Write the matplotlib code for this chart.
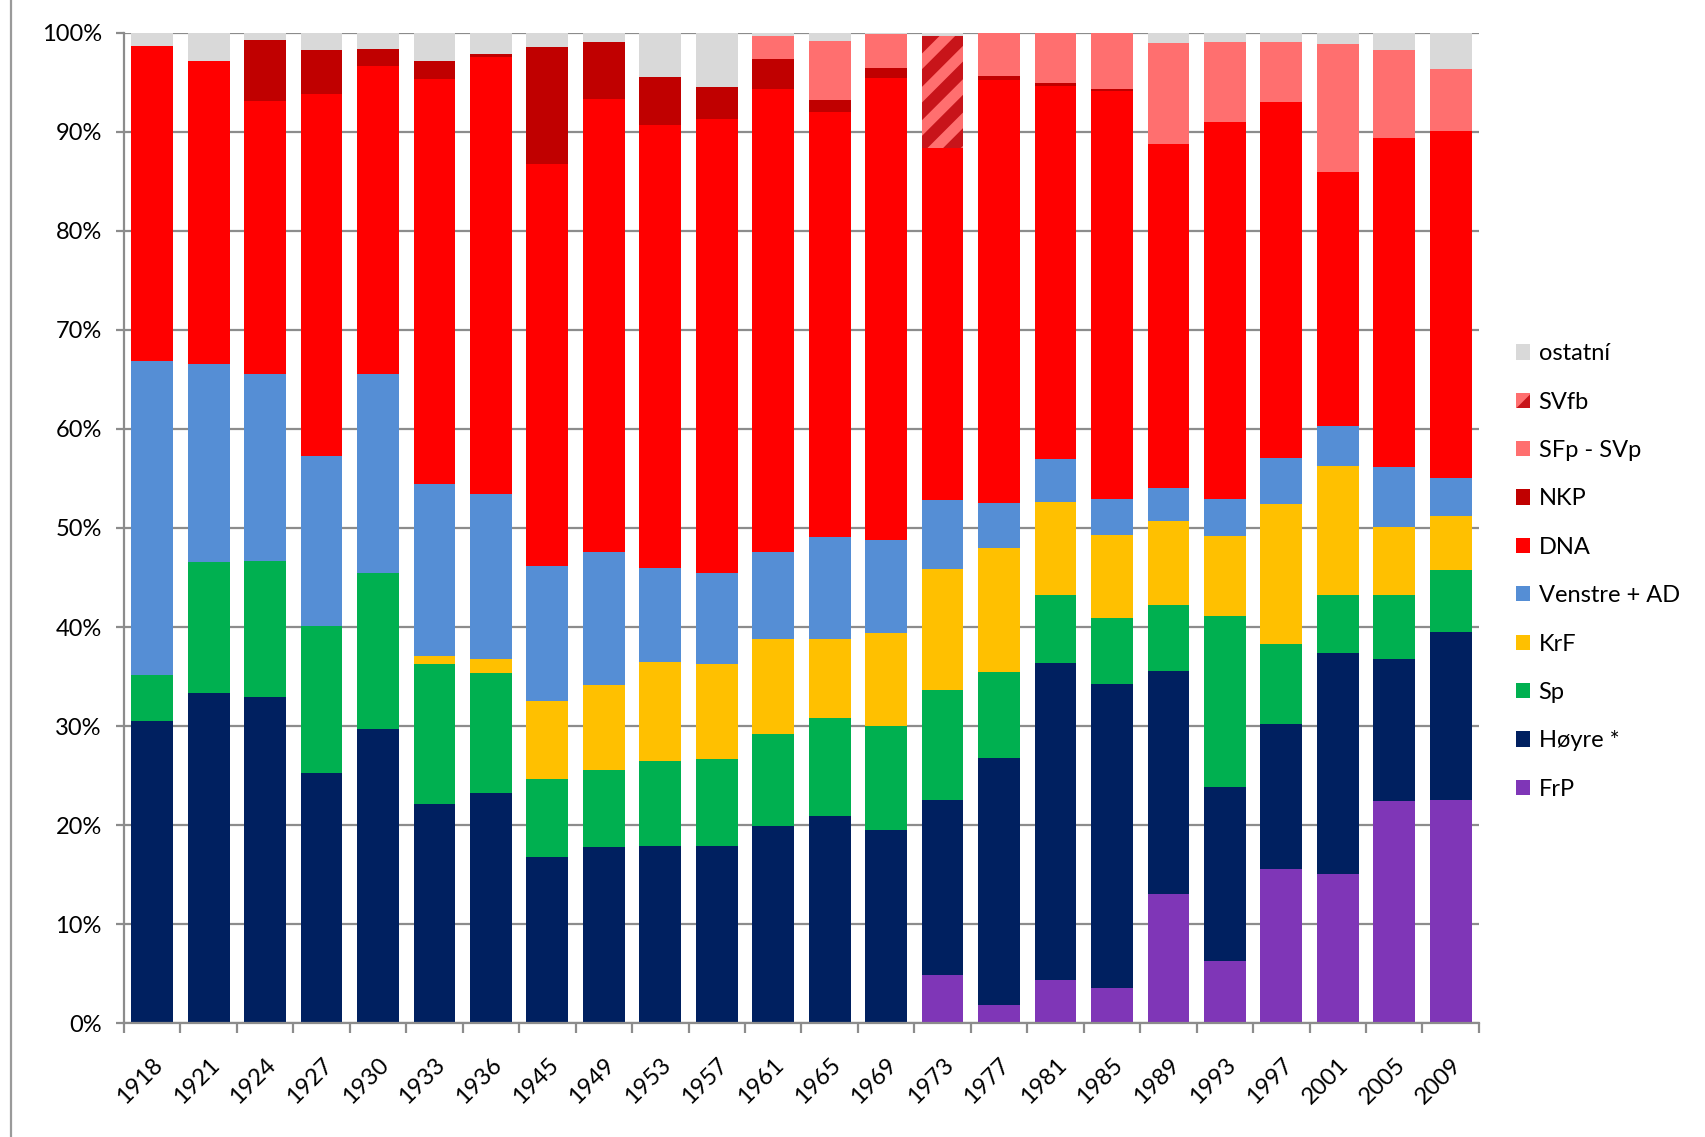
import matplotlib
matplotlib.use("Agg")
import matplotlib.pyplot as plt
import numpy as np
from matplotlib.patches import Patch
from matplotlib.lines import Line2D
from matplotlib.ticker import FuncFormatter, FixedLocator

plt.rcParams['font.family'] = ['Lato', 'DejaVu Sans']
plt.rcParams['hatch.linewidth'] = 9

years = ['1918', '1921', '1924', '1927', '1930', '1933', '1936', '1945', '1949', '1953',
         '1957', '1961', '1965', '1969', '1973', '1977', '1981', '1985', '1989', '1993',
         '1997', '2001', '2005', '2009']

frp = [0, 0, 0, 0, 0, 0, 0, 0, 0, 0, 0, 0, 0, 0, 4.9, 1.8, 4.4, 3.6, 13.1, 6.3, 15.6, 15.1, 22.4, 22.6]
hoyre = [30.5, 33.4, 32.9, 25.3, 29.7, 22.1, 23.3, 16.8, 17.8, 17.9, 17.9, 19.9, 20.9, 19.5,
         17.6, 25.0, 32.0, 30.7, 22.5, 17.6, 14.6, 22.3, 14.3, 17.0]
sp = [4.7, 13.2, 13.8, 14.8, 15.8, 14.1, 12.1, 7.9, 7.8, 8.6, 8.8, 9.3, 9.9, 10.5,
      11.1, 8.7, 6.8, 6.6, 6.6, 17.2, 8.1, 5.8, 6.5, 6.2]
krf = [0, 0, 0, 0, 0, 0.8, 1.4, 7.8, 8.5, 10.0, 9.6, 9.6, 8.0, 9.4,
       12.3, 12.5, 9.4, 8.4, 8.5, 8.1, 14.1, 13.1, 6.8, 5.5]
venstre = [31.7, 20.0, 18.8, 17.2, 20.0, 17.4, 16.7, 13.7, 13.5, 9.5, 9.2, 8.8, 10.3, 9.4,
           6.9, 4.5, 4.4, 3.6, 3.3, 3.7, 4.7, 4.0, 6.1, 3.9]
dna = [31.8, 30.6, 27.6, 36.5, 31.1, 40.8, 44.1, 40.5, 45.7, 44.7, 45.8, 46.7, 43.0, 46.6,
       35.6, 42.7, 37.6, 41.2, 34.8, 38.1, 35.9, 25.6, 33.2, 35.1]
nkp = [0, 0, 6.2, 4.4, 1.7, 1.8, 0.3, 11.8, 5.8, 4.8, 3.2, 3.0, 1.2, 1.0,
       0, 0.4, 0.3, 0.2, 0, 0, 0, 0, 0, 0]
sfp_svp = [0, 0, 0, 0, 0, 0, 0, 0, 0, 0, 0, 2.4, 6.0, 3.5,
           0, 4.4, 5.1, 5.7, 10.2, 8.1, 6.1, 13.0, 8.8, 6.2]
svfb = [0, 0, 0, 0, 0, 0, 0, 0, 0, 0, 0, 0, 0, 0,
        11.3, 0, 0, 0, 0, 0, 0, 0, 0, 0]
ostatni = [1.3, 2.9, 0.7, 1.8, 1.7, 2.9, 2.2, 1.5, 0.9, 4.5, 5.5, 0.3, 0.8, 0.1,
           0.3, 0, 0, 0, 1.0, 0.9, 0.9, 1.1, 1.8, 3.7]

series = [
    ('FrP', frp, '#7F36B7', None),
    ('Høyre *', hoyre, '#002060', None),
    ('Sp', sp, '#00B050', None),
    ('KrF', krf, '#FFC000', None),
    ('Venstre + AD', venstre, '#558ED5', None),
    ('DNA', dna, '#FF0000', None),
    ('NKP', nkp, '#C00000', None),
    ('SFp - SVp', sfp_svp, '#FF6F6F', None),
    ('SVfb', svfb, '#FF6F6F', '/'),
    ('ostatní', ostatni, '#D9D9D9', None),
]

data = np.array([s[1] for s in series], dtype=float)
totals = data.sum(axis=0)
shares = data / totals * 100.0

fig = plt.figure(figsize=(17.05, 11.37), dpi=100)
ax = fig.add_axes([0.0727, 0.1000, 0.7947, 0.8713])

x = np.arange(len(years))
bottom = np.zeros(len(years))
handles = []
for (name, _, color, hatch), vals in zip(series, shares):
    edge = '#C8141A' if hatch else 'none'
    ax.bar(x, vals, bottom=bottom, width=0.74, color=color, edgecolor=edge,
           hatch=hatch, linewidth=0, zorder=2)
    bottom += vals
    handles.append(Patch(facecolor=color, edgecolor=edge, hatch=hatch, linewidth=0,
                         label=name))

ax.set_xlim(-0.5, len(years) - 0.5)
ax.set_ylim(0, 100)
ax.set_yticks(np.arange(0, 101, 10))
ax.yaxis.set_major_formatter(FuncFormatter(lambda v, p: f"{int(v)}%"))
ax.grid(axis='y', color='#8C8C8C', linewidth=1.6, zorder=0)
ax.set_axisbelow(True)

for side in ['top', 'right']:
    ax.spines[side].set_visible(False)
for side in ['left', 'bottom']:
    ax.spines[side].set_color('#8C8C8C')
    ax.spines[side].set_linewidth(1.6)

ax.tick_params(axis='y', which='major', length=6, width=1.6, color='#8C8C8C',
               labelsize=17, pad=10)
ax.set_xticks(x)
ax.set_xticklabels(years, rotation=45, ha='right', rotation_mode='anchor', fontsize=17)
ax.tick_params(axis='x', which='major', length=0, pad=22)
ax.xaxis.set_minor_locator(FixedLocator(np.arange(-0.5, len(years), 1.0)))
ax.tick_params(axis='x', which='minor', length=7, width=1.6, color='#8C8C8C')

leg = fig.legend(handles=handles[::-1], loc='center left',
                 bbox_to_anchor=(0.889, 0.4974), frameon=False, fontsize=17,
                 labelspacing=1.16, handlelength=0.62, handleheight=0.62,
                 handletextpad=0.35, borderpad=0, borderaxespad=0)

fig.add_artist(Line2D([11 / 1705, 11 / 1705], [0, 1], transform=fig.transFigure,
                      color='#9A9A9A', linewidth=1.6))

fig.savefig('out.png', dpi=100)
